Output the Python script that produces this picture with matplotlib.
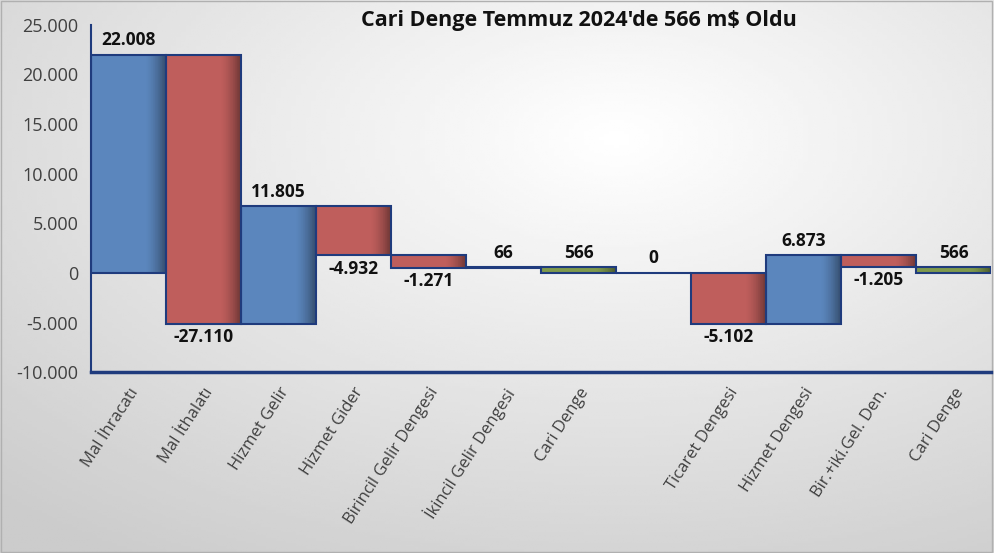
import numpy as np
import matplotlib.pyplot as plt
from matplotlib.colors import to_rgb

labels = ["Mal İhracatı", "Mal İthalatı", "Hizmet Gelir", "Hizmet Gider",
          "Birincil Gelir Dengesi", "İkincil Gelir Dengesi", "Cari Denge", "",
          "Ticaret Dengesi", "Hizmet Dengesi", "Bir.+iki.Gel. Den.", "Cari Denge"]
values = [22008, -27110, 11805, -4932, -1271, 66, 566, 0, -5102, 6873, -1205, 566]
is_total = [False, False, False, False, False, False, True, True, False, False, False, True]

BLUE = "#5b86bd"
RED = "#bf5e5c"
GREEN = "#7f9a4c"
EDGE = "#1f3b7d"

plt.rcParams['font.family'] = ['Open Sans', 'DejaVu Sans']

fig = plt.figure(figsize=(9.94, 5.53), dpi=100)

# background gradient
bg = fig.add_axes([0, 0, 1, 1], zorder=-1)
yy, xx = np.mgrid[0:1:200j, 0:1:200j]
d = np.sqrt(((xx - 0.62) / 0.9) ** 2 + ((yy - 0.75) / 0.9) ** 2)
shade = 1.0 - 0.2 * np.clip(d, 0, 1)
bg.imshow(shade, cmap="gray", vmin=0, vmax=1, extent=[0, 1, 0, 1], aspect="auto", origin="lower")
bg.axis("off")
bg.add_patch(plt.Rectangle((0.001, 0.002), 0.997, 0.996, fill=False, ec="#b0b0b0", lw=1))

ax = fig.add_axes([0.0915, 0.327, 0.9055, 0.628])
ax.patch.set_alpha(0)

x = np.arange(len(values))
bottoms, heights = [], []
run = 0
for v, t in zip(values, is_total):
    if t:
        bottoms.append(0)
        heights.append(v)
        run = v
    else:
        bottoms.append(run)
        heights.append(v)
        run += v

colors = []
for v, t in zip(values, is_total):
    if t:
        colors.append(GREEN)
    elif v >= 0:
        colors.append(BLUE)
    else:
        colors.append(RED)

ax.bar(x, heights, bottom=bottoms, width=1.0, color=colors, edgecolor="none", lw=0, zorder=2)
# soft darker shading toward the right edge of each bar
n = 30
band = 0.28
w = band / n
for k in range(n):
    f = (k + 1) / n
    shaded = [tuple(np.array(to_rgb(c)) * (1 - 0.42 * f ** 1.6)) for c in colors]
    left = 0.5 - band + k * w
    ax.bar(x + left, heights, bottom=bottoms, width=w * 1.6, align="edge",
           color=shaded, edgecolor="none", lw=0, zorder=3)
ax.bar(x, heights, bottom=bottoms, width=1.0, color="none", edgecolor=EDGE, lw=1.5, zorder=4)

for xi, b, h, v in zip(x, bottoms, heights, values):
    txt = f"{v:,}".replace(",", ".")
    if v >= 0:
        ax.annotate(txt, (xi, b + h), xytext=(0, 4), textcoords="offset points",
                    ha="center", va="bottom", fontsize=12.5, fontweight="bold", color="#111111")
    else:
        ax.annotate(txt, (xi, b + h), xytext=(0, -3), textcoords="offset points",
                    ha="center", va="top", fontsize=12.5, fontweight="bold", color="#111111")

ax.set_xlim(-0.5, 11.5)
ax.set_ylim(-10000, 25000)
ax.set_yticks(np.arange(-10000, 25001, 5000))
ax.set_yticklabels([f"{int(t):,}".replace(",", ".") for t in ax.get_yticks()],
                   fontsize=13, color="#404040")
ax.set_xticks(x)
ax.set_xticklabels(labels, rotation=57, ha="right", rotation_mode="anchor",
                   fontsize=12, color="#404040")
ax.tick_params(axis="both", length=0)
ax.tick_params(axis="y", pad=9)
ax.tick_params(axis="x", pad=9)
for s in ["top", "right"]:
    ax.spines[s].set_visible(False)
ax.spines["left"].set_color(EDGE)
ax.spines["left"].set_linewidth(1.5)
ax.spines["bottom"].set_color(EDGE)
ax.spines["bottom"].set_linewidth(2.5)

fig.text(0.582, 0.963, "Cari Denge Temmuz 2024'de 566 m$ Oldu", ha="center", va="center",
         fontsize=15.5, fontweight="bold", color="#111111")

fig.savefig("out.png", dpi=100)
